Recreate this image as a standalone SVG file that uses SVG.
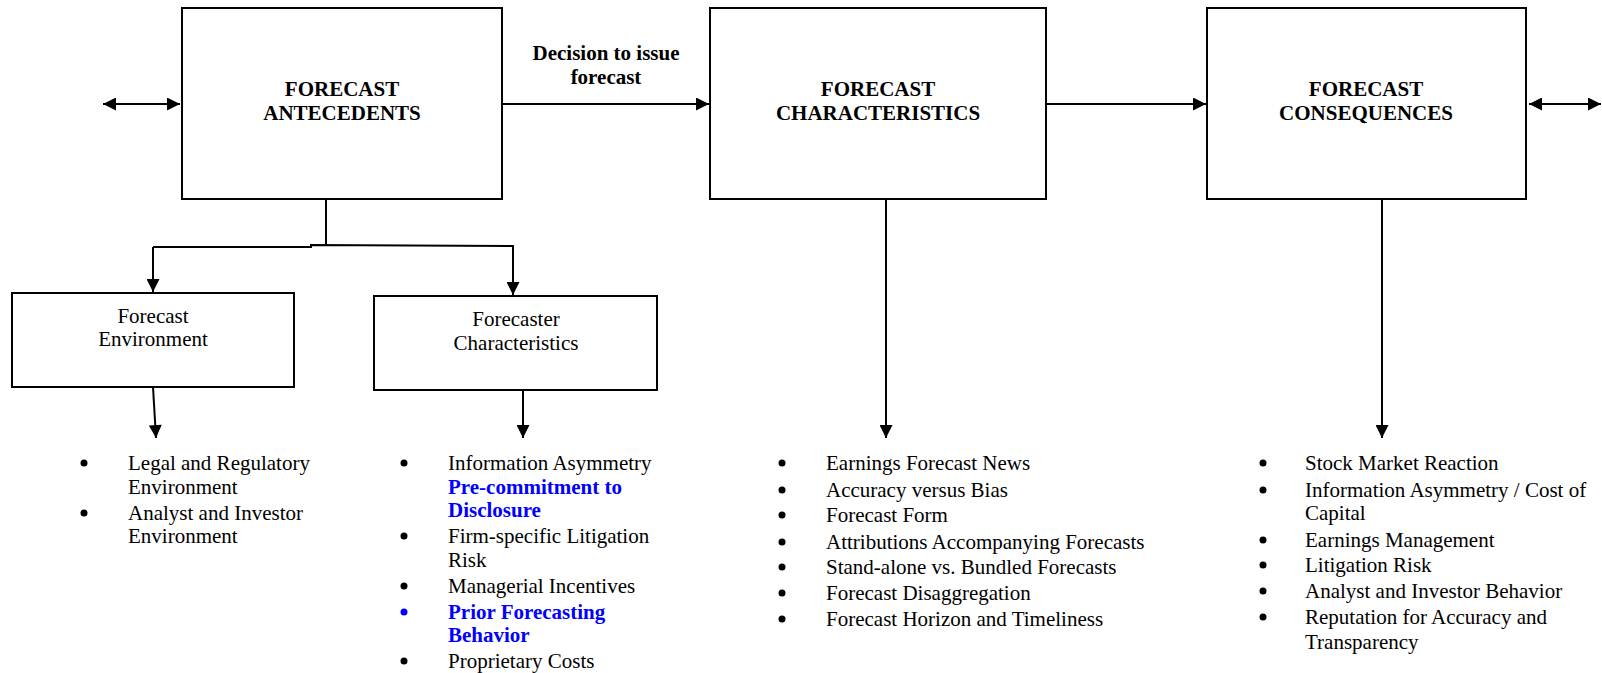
<svg xmlns="http://www.w3.org/2000/svg" width="1602" height="673" viewBox="0 0 1602 673">
<style>
.box{fill:#fff;stroke:#000;stroke-width:2}
.ln{fill:none;stroke:#000;stroke-width:2}
.t{font-family:"Liberation Serif","Times New Roman",serif;font-size:21px;fill:#000}
.b{font-weight:bold}
.blue{fill:#0000ff;font-weight:bold}
.c{text-anchor:middle}
.dot{fill:#000}
.bdot{fill:#0000ff}
</style>
<defs>
<marker id="ah" viewBox="0 0 10 10" refX="10" refY="5" markerWidth="8" markerHeight="6.5" markerUnits="strokeWidth" orient="auto-start-reverse">
<path d="M0,0 L10,5 L0,10 Z" fill="#000"/>
</marker>
</defs>
<g id="connectors">
<line class="ln" x1="103" y1="104" x2="180" y2="104" marker-start="url(#ah)" marker-end="url(#ah)"/>
<line class="ln" x1="502" y1="104" x2="709" y2="104" marker-end="url(#ah)"/>
<line class="ln" x1="1046" y1="104" x2="1206" y2="104" marker-end="url(#ah)"/>
<line class="ln" x1="1529" y1="104" x2="1601" y2="104" marker-start="url(#ah)" marker-end="url(#ah)"/>
<polyline class="ln" points="326,199 326,245"/>
<polyline class="ln" points="153,247 311,247 311,245 513,246 513,295" marker-end="url(#ah)"/>
<line class="ln" x1="153" y1="247" x2="153" y2="292" marker-end="url(#ah)"/>
<line class="ln" x1="153" y1="387" x2="156" y2="438" marker-end="url(#ah)"/>
<line class="ln" x1="523" y1="390" x2="523" y2="438" marker-end="url(#ah)"/>
<line class="ln" x1="886" y1="199" x2="886" y2="438" marker-end="url(#ah)"/>
<line class="ln" x1="1382" y1="199" x2="1382" y2="438" marker-end="url(#ah)"/>
</g>
<g id="antecedents">
<rect class="box" x="182" y="8" width="320" height="191"/>
<text class="t b c" x="342" y="96">FORECAST</text>
<text class="t b c" x="342" y="120">ANTECEDENTS</text>
</g>
<g id="decision-label">
<text class="t b c" x="606" y="60">Decision to issue</text>
<text class="t b c" x="606" y="84">forecast</text>
</g>
<g id="characteristics">
<rect class="box" x="710" y="8" width="336" height="191"/>
<text class="t b c" x="878" y="96">FORECAST</text>
<text class="t b c" x="878" y="120">CHARACTERISTICS</text>
</g>
<g id="consequences">
<rect class="box" x="1207" y="8" width="319" height="191"/>
<text class="t b c" x="1366" y="96">FORECAST</text>
<text class="t b c" x="1366" y="120">CONSEQUENCES</text>
</g>
<g id="environment">
<rect class="box" x="12" y="293" width="282" height="94"/>
<text class="t c" x="153" y="323">Forecast</text>
<text class="t c" x="153" y="346">Environment</text>
</g>
<g id="forecaster">
<rect class="box" x="374" y="296" width="283" height="94"/>
<text class="t c" x="516" y="326">Forecaster</text>
<text class="t c" x="516" y="350">Characteristics</text>
</g>
<g id="env-list" class="t">
<circle class="dot" cx="84" cy="463" r="3.5"/><text x="128" y="470">Legal and Regulatory</text>
<text x="128" y="494">Environment</text>
<circle class="dot" cx="84" cy="513" r="3.5"/><text x="128" y="520">Analyst and Investor</text>
<text x="128" y="543">Environment</text>
</g>
<g id="forecaster-list" class="t">
<circle class="dot" cx="404" cy="463" r="3.5"/><text x="448" y="470">Information Asymmetry</text>
<text class="blue" x="448" y="494">Pre-commitment to</text>
<text class="blue" x="448" y="517">Disclosure</text>
<circle class="dot" cx="404" cy="536" r="3.5"/><text x="448" y="543">Firm-specific Litigation</text>
<text x="448" y="567">Risk</text>
<circle class="dot" cx="404" cy="586" r="3.5"/><text x="448" y="593">Managerial Incentives</text>
<circle class="bdot" cx="404" cy="612" r="3.5"/><text class="blue" x="448" y="619">Prior Forecasting</text>
<text class="blue" x="448" y="642">Behavior</text>
<circle class="dot" cx="404" cy="661" r="3.5"/><text x="448" y="668">Proprietary Costs</text>
</g>
<g id="characteristics-list" class="t">
<circle class="dot" cx="782" cy="463" r="3.5"/><text x="826" y="470">Earnings Forecast News</text>
<circle class="dot" cx="782" cy="490" r="3.5"/><text x="826" y="497">Accuracy versus Bias</text>
<circle class="dot" cx="782" cy="515" r="3.5"/><text x="826" y="522">Forecast Form</text>
<circle class="dot" cx="782" cy="542" r="3.5"/><text x="826" y="549">Attributions Accompanying Forecasts</text>
<circle class="dot" cx="782" cy="567" r="3.5"/><text x="826" y="574">Stand-alone vs. Bundled Forecasts</text>
<circle class="dot" cx="782" cy="593" r="3.5"/><text x="826" y="600">Forecast Disaggregation</text>
<circle class="dot" cx="782" cy="619" r="3.5"/><text x="826" y="626">Forecast Horizon and Timeliness</text>
</g>
<g id="consequences-list" class="t">
<circle class="dot" cx="1263" cy="463" r="3.5"/><text x="1305" y="470">Stock Market Reaction</text>
<circle class="dot" cx="1263" cy="490" r="3.5"/><text x="1305" y="497">Information Asymmetry / Cost of</text>
<text x="1305" y="520">Capital</text>
<circle class="dot" cx="1263" cy="540" r="3.5"/><text x="1305" y="547">Earnings Management</text>
<circle class="dot" cx="1263" cy="565" r="3.5"/><text x="1305" y="572">Litigation Risk</text>
<circle class="dot" cx="1263" cy="591" r="3.5"/><text x="1305" y="598">Analyst and Investor Behavior</text>
<circle class="dot" cx="1263" cy="617" r="3.5"/><text x="1305" y="624">Reputation for Accuracy and</text>
<text x="1305" y="649">Transparency</text>
</g>
</svg>
